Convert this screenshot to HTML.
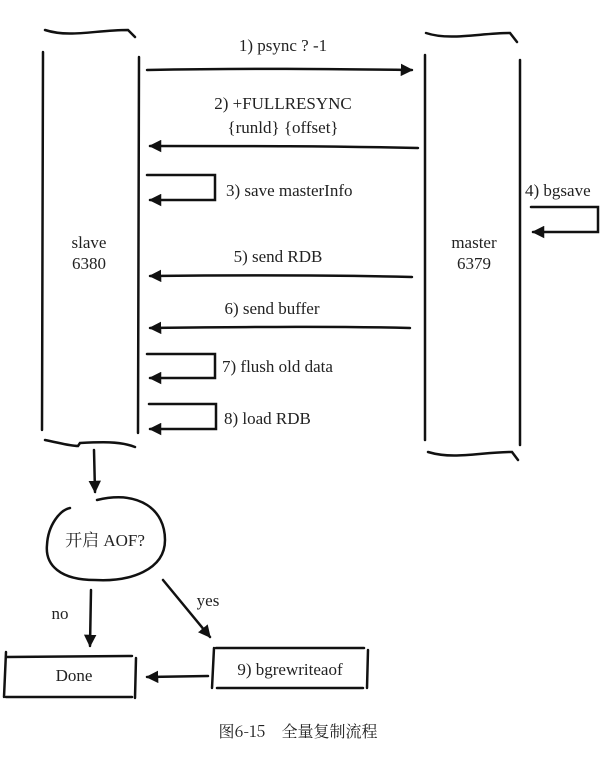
<!DOCTYPE html>
<html><head><meta charset="utf-8"><style>
html,body{margin:0;padding:0;background:#fff;}
svg text{font-family:"Liberation Serif","Noto Serif CJK SC",serif;fill:#222;}
</style></head><body>
<svg width="615" height="767" viewBox="0 0 615 767" xmlns="http://www.w3.org/2000/svg">
<defs>
<marker id="a" viewBox="0 0 10 10" refX="9" refY="5" markerWidth="5" markerHeight="5" orient="auto"><path d="M0,0 L10,5 L0,10 z" fill="#111"/></marker>
</defs>
<g stroke="#111" stroke-width="2.5" fill="none" stroke-linecap="round">
<!-- slave -->
<path d="M45,30 C70,38 95,30 128,30 L135,37"/>
<path d="M43,52 L42,430"/>
<path d="M139,57 L138,433"/>
<path d="M45,440 C60,443 70,446 78,446 L80,443 C100,442 120,441 135,447"/>
<!-- master -->
<path d="M426,33 C450,41 480,33 510,33 L517,42"/>
<path d="M425,55 L425,440"/>
<path d="M520,60 L520,445"/>
<path d="M428,452 C455,460 480,452 512,452 L518,460"/>
<!-- arrows -->
<path d="M147,70 C250,68 330,69 412,70" marker-end="url(#a)"/>
<path d="M418,148 C330,146 250,146 150,146" marker-end="url(#a)"/>
<path d="M147,175 L215,175 L215,200 L150,200" marker-end="url(#a)"/>
<path d="M531,207 L598,207 L598,232 L533,232" marker-end="url(#a)"/>
<path d="M412,277 C330,275 250,275 150,276" marker-end="url(#a)"/>
<path d="M410,328 C330,326 250,327 150,328" marker-end="url(#a)"/>
<path d="M147,354 L215,354 L215,378 L150,378" marker-end="url(#a)"/>
<path d="M149,404 L216,404 L216,429 L150,429" marker-end="url(#a)"/>
<!-- flow -->
<path d="M94,450 L95,492" marker-end="url(#a)"/>
<path d="M97,500 C140,490 165,510 165,540 C165,570 130,582 95,580 C60,580 45,565 47,545 C48,525 60,510 70,508"/>
<path d="M91,590 L90,646" marker-end="url(#a)"/>
<path d="M163,580 L210,637" marker-end="url(#a)"/>
<path d="M6,657 L132,656 M6,697 L132,697 M6,652 L4,697 M136,658 L135,698"/>
<path d="M216,648 L364,648 M217,688 L363,688 M214,648 L212,688 M368,650 L367,688"/>
<path d="M208,676 L147,677" marker-end="url(#a)"/>
</g>
<g font-size="17">
<text x="283" y="51" text-anchor="middle">1) psync ? -1</text>
<text x="283" y="109" text-anchor="middle">2) +FULLRESYNC</text>
<text x="283" y="133" text-anchor="middle">{runld} {offset}</text>
<text x="226" y="196">3) save masterInfo</text>
<text x="525" y="196">4) bgsave</text>
<text x="89" y="248" text-anchor="middle">slave</text>
<text x="89" y="269" text-anchor="middle">6380</text>
<text x="474" y="248" text-anchor="middle">master</text>
<text x="474" y="269" text-anchor="middle">6379</text>
<text x="278" y="262" text-anchor="middle">5) send RDB</text>
<text x="272" y="314" text-anchor="middle">6) send buffer</text>
<text x="222" y="372">7) flush old data</text>
<text x="224" y="424">8) load RDB</text>
<text x="105" y="546" text-anchor="middle">开启 AOF?</text>
<text x="60" y="619" text-anchor="middle">no</text>
<text x="208" y="606" text-anchor="middle">yes</text>
<text x="74" y="681" text-anchor="middle">Done</text>
<text x="290" y="675" text-anchor="middle">9) bgrewriteaof</text>
</g>
<text x="298" y="737" text-anchor="middle" font-size="16" style="font-family:'Noto Serif CJK SC','Liberation Serif',serif">图6-15　全量复制流程</text>
</svg>
</body></html>
